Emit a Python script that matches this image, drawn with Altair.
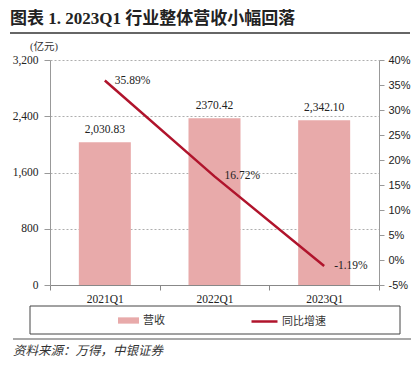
import altair as alt
import pandas as pd

periods = ["2021Q1", "2022Q1", "2023Q1"]
revenue = [2030.83, 2370.42, 2342.10]
revenue_labels = ["2,030.83", "2370.42", "2,342.10"]
growth = [35.89, 16.72, -1.19]
growth_labels = ["35.89%", "16.72%", "-1.19%"]
left_ticks = [0, 800, 1600, 2400, 3200]
right_ticks = [-5, 0, 5, 10, 15, 20, 25, 30, 35, 40]
series_names = ["营收", "同比增速"]
title_text = "图表 1. 2023Q1 行业整体营收小幅回落"
unit_text = "(亿元)"
source_text = "资料来源：万得，中银证券"

BAR = "#E8AAAA"
LINE = "#B0142C"
SERIF = "Liberation Serif, Noto Sans CJK SC"
CJK = "Noto Sans CJK SC"

df = pd.DataFrame({
    "period": periods,
    "revenue": revenue,
    "rev_label": revenue_labels,
    "growth": growth,
    "g_label": growth_labels,
    "s1": [series_names[0]] * 3,
    "s2": [series_names[1]] * 3,
})

x_enc = alt.X("period:N", sort=periods,
              scale=alt.Scale(paddingInner=0, paddingOuter=0),
              axis=alt.Axis(title=None, labelAngle=0, tickBand="extent",
                            domainColor="#888", tickColor="#888", tickSize=5,
                            labelFont=SERIF, labelFontSize=11.5, labelColor="#222",
                            labelPadding=3))

base = alt.Chart(df).encode(x=x_enc)

y_left = alt.Y("revenue:Q", scale=alt.Scale(domain=[0, 3200], nice=False),
               axis=alt.Axis(title=None, values=left_ticks,
                             labelExpr="format(datum.value, ',')", grid=True,
                             gridDash=[2, 2], gridColor="#999", gridWidth=0.8,
                             domainColor="#999", tickColor="#999", tickSize=6,
                             labelFont=SERIF, labelFontSize=11.5, labelColor="#222",
                             labelPadding=6, labelOverlap=False))

bars = base.mark_bar(size=52).encode(
    y=y_left,
    fill=alt.Fill("s1:N", scale=alt.Scale(domain=[series_names[0]], range=[BAR]),
                  legend=alt.Legend(orient="none", legendX=68, legendY=250, title=None,
                                    symbolType="M-1,-0.3H1V0.3H-1Z", symbolSize=441,
                                    symbolStrokeWidth=0, labelFont=CJK, labelFontSize=11,
                                    labelColor="#333", labelOffset=4, padding=0)),
)
bar_text = base.mark_text(dy=-12, baseline="middle", font=SERIF, fontSize=11.5,
                          color="#222").encode(y=y_left, text="rev_label:N")
left = alt.layer(bars, bar_text)

y_right = alt.Y("growth:Q", scale=alt.Scale(domain=[-5, 40], nice=False),
                axis=alt.Axis(title=None, orient="right", values=right_ticks,
                              labelExpr="datum.value + '%'", grid=False,
                              domainColor="#999", tickColor="#999", tickSize=5,
                              labelFont="Liberation Sans", labelFontSize=11,
                              labelColor="#222", labelPadding=4, labelOverlap=False,
                              labelBound=False))

line = base.mark_line(strokeWidth=2.5).encode(
    y=y_right,
    stroke=alt.Stroke("s2:N", scale=alt.Scale(domain=[series_names[1]], range=[LINE]),
                      legend=alt.Legend(orient="none", legendX=200, legendY=247, title=None,
                                        symbolType="stroke", symbolSize=676,
                                        symbolStrokeWidth=2.5, labelFont=CJK,
                                        labelFontSize=11, labelColor="#333",
                                        labelOffset=3, padding=0)),
)
line_text = base.mark_text(dx=10, align="left", baseline="middle", font=SERIF,
                           fontSize=11.5, color="#222").encode(y=y_right, text="g_label:N")
right = alt.layer(line, line_text)

one = pd.DataFrame({"title": [title_text], "unit": [unit_text], "src": [source_text]})
deco = alt.Chart(one)
title = deco.mark_text(align="left", baseline="alphabetic", font=SERIF, fontSize=17,
                       fontWeight="bold", color="#222").encode(
    x=alt.value(-40), y=alt.value(-36), text="title:N")
title_rule = deco.mark_rule(color="#666", strokeWidth=2).encode(
    x=alt.value(-40), x2=alt.value(360), y=alt.value(-27))
unit = deco.mark_text(align="center", baseline="middle", font=SERIF, fontSize=10.5,
                      color="#333").encode(x=alt.value(-6), y=alt.value(-13), text="unit:N")
box = deco.mark_rect(fill="white", fillOpacity=0, stroke="#444", strokeWidth=1).encode(
    x=alt.value(-20), x2=alt.value(350), y=alt.value(246), y2=alt.value(274))
src_rule = deco.mark_rule(color="#555", strokeWidth=1.2).encode(
    x=alt.value(-37), x2=alt.value(369), y=alt.value(279))
src = deco.mark_text(align="left", baseline="middle", font=CJK, fontSize=12.5,
                     fontStyle="italic", color="#333").encode(
    x=alt.value(-37), y=alt.value(291), text="src:N")

chart = alt.layer(left, right, title, title_rule, unit, box, src_rule, src).resolve_scale(
    y="independent", fill="independent", stroke="independent"
).properties(
    width=329, height=225,
    autosize=alt.AutoSizeParams(type="none"),
    padding={"left": 42, "top": 52, "right": 32, "bottom": 84},
    background="white",
).configure_view(stroke=None)

chart.save("out.html", embed_options={"renderer": "svg", "actions": False})
